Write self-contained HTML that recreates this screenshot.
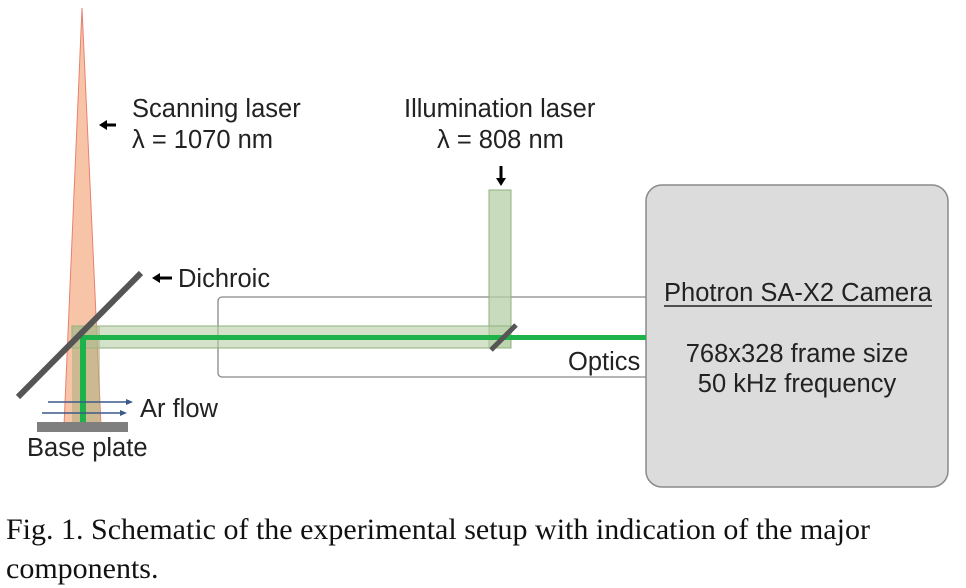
<!DOCTYPE html>
<html><head><meta charset="utf-8"><style>
html,body{margin:0;padding:0;background:#fff;width:966px;height:588px;overflow:hidden}
svg{display:block}
.s{font-family:"Liberation Sans",sans-serif;fill:#222;font-size:25.5px}
.c{font-family:"Liberation Serif",serif;fill:#111;font-size:30px}
</style></head><body>
<svg width="966" height="588" viewBox="0 0 966 588" xmlns="http://www.w3.org/2000/svg">
<rect x="218" y="297" width="440" height="80" rx="4" fill="none" stroke="#888" stroke-width="1.3"/>
<rect x="646" y="185" width="302" height="302" rx="16" fill="#dcdcdc" stroke="#8a8a8a" stroke-width="1.5"/>
<polygon points="82,8 64,426 101,426" fill="#f7c4a8" stroke="#e88070" stroke-width="1"/>
<rect x="489" y="190" width="22" height="158" fill="#b5cfa5" fill-opacity="0.75" stroke="#8fb07f" stroke-width="1"/>
<polygon points="72,326 511,326 511,348 72,348" fill="#b5cfa5" fill-opacity="0.6" stroke="#8fb07f" stroke-width="1"/>
<rect x="72" y="326" width="28" height="100" fill="#a9b080" fill-opacity="0.55"/>
<rect x="82" y="335" width="564" height="5" fill="#1db34a"/>
<rect x="80" y="335" width="6" height="92" fill="#1db34a"/>
<line x1="18" y1="397" x2="141" y2="273" stroke="#555" stroke-width="6"/>
<line x1="491" y1="350" x2="516" y2="325" stroke="#555" stroke-width="5"/>
<line x1="48" y1="402" x2="130" y2="402" stroke="#3b5a8a" stroke-width="1.5"/>
<polygon points="133,402 126,399 126,405" fill="#3b5a8a"/>
<line x1="42" y1="413" x2="124" y2="413" stroke="#3b5a8a" stroke-width="1.5"/>
<polygon points="127,413 120,410 120,416" fill="#3b5a8a"/>
<rect x="37" y="422" width="91" height="10" fill="#7f7f7f"/>
<line x1="104" y1="125" x2="116" y2="125" stroke="#000" stroke-width="3"/>
<polygon points="99,125 107,120 107,130" fill="#000"/>
<line x1="158" y1="278" x2="172" y2="278" stroke="#000" stroke-width="3"/>
<polygon points="152,278 160,273 160,283" fill="#000"/>
<line x1="501" y1="166" x2="501" y2="178" stroke="#000" stroke-width="3"/>
<polygon points="501,186 496,178 506,178" fill="#000"/>
<text class="s" x="132" y="117">Scanning laser</text>
<text class="s" x="132" y="148">λ = 1070 nm</text>
<text class="s" x="404" y="117">Illumination laser</text>
<text class="s" x="437" y="148">λ = 808 nm</text>
<text class="s" x="178" y="287">Dichroic</text>
<text class="s" x="568" y="370">Optics</text>
<text class="s" x="140" y="417">Ar flow</text>
<text class="s" x="27" y="456">Base plate</text>
<text class="s" x="664" y="301">Photron SA-X2 Camera</text>
<line x1="664" y1="306" x2="932" y2="306" stroke="#222" stroke-width="1.5"/>
<text class="s" x="797" y="362" text-anchor="middle">768x328 frame size</text>
<text class="s" x="797" y="392" text-anchor="middle">50 kHz frequency</text>
<text class="c" x="6" y="539">Fig. 1. Schematic of the experimental setup with indication of the major</text>
<text class="c" x="6" y="578">components.</text>
</svg>
</body></html>
